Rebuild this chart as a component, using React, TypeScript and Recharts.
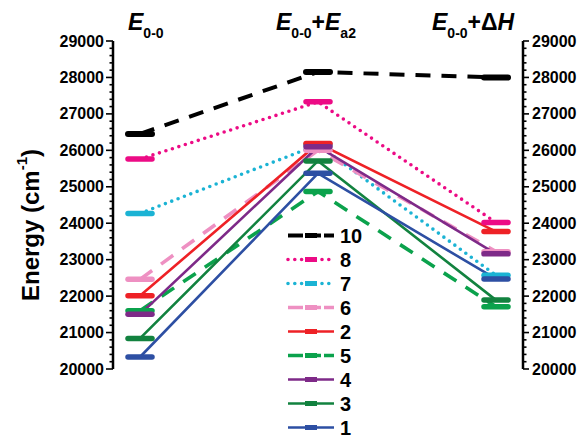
import React from 'react';
import { LineChart, Line, XAxis, YAxis } from 'recharts';

const categories = ['E0-0', 'E0-0+Ea2', 'E0-0+ΔH'];

const s10 = [26450, 28150, 28000];
const s8 = [25760, 27330, 24020];
const s7 = [24270, 26150, 22570];
const s6 = [22460, 26000, 23220];
const s2 = [22010, 26190, 23770];
const s5 = [21600, 24870, 21710];
const s4 = [21500, 26100, 23160];
const s3 = [20840, 25710, 21890];
const s1 = [20330, 25370, 22470];

const seriesNames = ['10', '8', '7', '6', '2', '5', '4', '3', '1'];
const seriesValues = [s10, s8, s7, s6, s2, s5, s4, s3, s1];

const styles: Record<string, { color: string; dash?: string; width: number; cap?: 'round' | 'butt' }> = {
  '10': { color: '#000000', dash: '15 11', width: 4 },
  '8': { color: '#EC0B85', dash: '0 6.8', width: 3.6, cap: 'round' },
  '7': { color: '#1BB3D4', dash: '0 6.8', width: 3.6, cap: 'round' },
  '6': { color: '#EE90C2', dash: '15 11', width: 3.6 },
  '2': { color: '#EE2126', width: 2.6 },
  '5': { color: '#0BA24C', dash: '15 11', width: 3.6 },
  '4': { color: '#7E2A88', width: 2.6 },
  '3': { color: '#12823F', width: 2.6 },
  '1': { color: '#2D4FA3', width: 2.6 },
};

const data = categories.map((c, i) => {
  const row: Record<string, string | number> = { cat: c };
  seriesNames.forEach((n, k) => {
    row['s' + n] = seriesValues[k][i];
  });
  return row;
});

const minorTicks: number[] = [];
for (let v = 20000; v <= 29000; v += 200) minorTicks.push(v);

const FONT = '"Liberation Sans", Arial, sans-serif';

const makeDot = (color: string, thick: number) => (props: any) => {
  const { cx, cy, index } = props;
  if (cx == null || cy == null) return <g key={index} />;
  return (
    <line
      key={index}
      x1={cx - 12}
      x2={cx + 12}
      y1={cy}
      y2={cy}
      stroke={color}
      strokeWidth={thick}
      strokeLinecap="round"
    />
  );
};

const LeftTick = (props: any) => {
  const { x, y, payload } = props;
  const v = payload.value;
  const major = v % 1000 === 0;
  return (
    <g>
      <line x1={x} x2={x - (major ? 7 : 3.5)} y1={y} y2={y} stroke="#000" strokeWidth={1.6} />
      {major && (
        <text x={x - 9} y={y} textAnchor="end" dominantBaseline="central" fontFamily={FONT} fontWeight="bold" fontSize={16} fill="#000">
          {v}
        </text>
      )}
    </g>
  );
};

const RightTick = (props: any) => {
  const { x, y, payload } = props;
  const v = payload.value;
  const major = v % 1000 === 0;
  return (
    <g>
      <line x1={x} x2={x + (major ? 6 : 3.5)} y1={y} y2={y} stroke="#000" strokeWidth={1.6} />
      {major && (
        <text x={x + 9} y={y} textAnchor="start" dominantBaseline="central" fontFamily={FONT} fontWeight="bold" fontSize={16} fill="#000">
          {v}
        </text>
      )}
    </g>
  );
};

export default function App() {
  return (
    <div style={{ position: 'absolute', left: 0, top: 0, width: 582, height: 441, background: '#fff' }}>
      <LineChart width={582} height={441} data={data} margin={{ top: 41, right: 0, bottom: 72, left: 0 }}>
        <XAxis dataKey="cat" hide padding={{ left: 27, right: 27 }} />
        <YAxis
          yAxisId="left"
          orientation="left"
          width={113}
          domain={[20000, 29000]}
          ticks={minorTicks}
          interval={0}
          type="number"
          allowDataOverflow
          tickSize={0}
          tickMargin={0}
          tickLine={false}
          axisLine={{ stroke: '#000', strokeWidth: 2.5 }}
          tick={<LeftTick />}
        />
        <YAxis
          yAxisId="right"
          orientation="right"
          width={59}
          domain={[20000, 29000]}
          ticks={minorTicks}
          interval={0}
          type="number"
          allowDataOverflow
          tickSize={0}
          tickMargin={0}
          tickLine={false}
          axisLine={{ stroke: '#000', strokeWidth: 2.5 }}
          tick={<RightTick />}
        />
        {seriesNames.map((n) => {
          const st = styles[n];
          return (
            <Line
              key={n}
              yAxisId="left"
              type="linear"
              dataKey={'s' + n}
              name={n}
              stroke={st.color}
              strokeWidth={st.width}
              strokeDasharray={st.dash}
              strokeLinecap={st.cap || 'butt'}
              dot={makeDot(st.color, n === '10' ? 6 : 5.5)}
              activeDot={false}
              isAnimationActive={false}
            />
          );
        })}
      </LineChart>
      <svg width={582} height={441} style={{ position: 'absolute', left: 0, top: 0, pointerEvents: 'none' }}>
        <text x={128} y={30} fontFamily={FONT} fontWeight="bold" fontSize={23} fill="#000">
          <tspan fontStyle="italic">E</tspan>
          <tspan fontSize={14} dy={8}>0-0</tspan>
        </text>
        <text x={276} y={30} fontFamily={FONT} fontWeight="bold" fontSize={23} fill="#000">
          <tspan fontStyle="italic">E</tspan>
          <tspan fontSize={14} dy={8}>0-0</tspan>
          <tspan dy={-8}>+</tspan>
          <tspan fontStyle="italic">E</tspan>
          <tspan fontSize={14} dy={8}>a2</tspan>
        </text>
        <text x={432} y={30} fontFamily={FONT} fontWeight="bold" fontSize={23} fill="#000">
          <tspan fontStyle="italic">E</tspan>
          <tspan fontSize={14} dy={8}>0-0</tspan>
          <tspan dy={-8}>+Δ</tspan>
          <tspan fontStyle="italic">H</tspan>
        </text>
        <text x={30} y={225} transform="rotate(-90 30 225)" textAnchor="middle" dominantBaseline="central" fontFamily={FONT} fontWeight="bold" fontSize={24} fill="#000">
          Energy (cm<tspan fontSize={15} dy={-9}>-1</tspan><tspan dy={9}>)</tspan>
        </text>
        {seriesNames.map((n, i) => {
          const st = styles[n];
          const y = 235.5 + i * 24;
          return (
            <g key={n}>
              <line x1={288} x2={334} y1={y} y2={y} stroke={st.color} strokeWidth={st.width} strokeDasharray={st.dash ? (st.cap ? '0 6.8' : '15 3') : undefined} strokeLinecap={st.cap || 'butt'} />
              <line x1={305} x2={317} y1={y} y2={y} stroke={st.color} strokeWidth={5} />
              <text x={340} y={y} dominantBaseline="central" fontFamily={FONT} fontWeight="bold" fontSize={20} fill="#000">
                {n}
              </text>
            </g>
          );
        })}
      </svg>
    </div>
  );
}
